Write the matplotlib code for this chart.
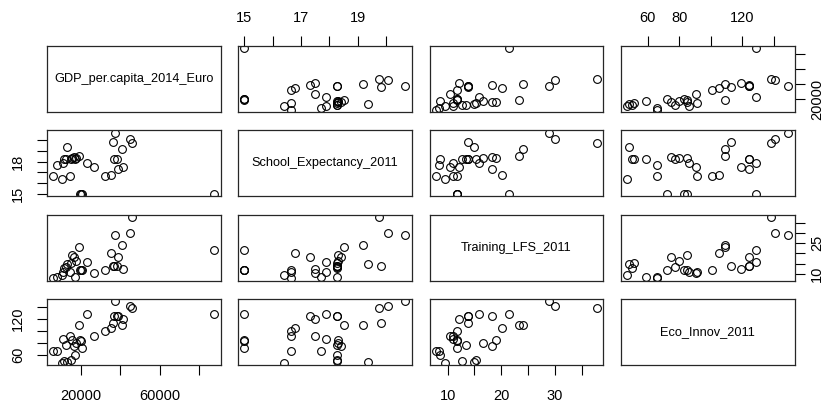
import matplotlib
matplotlib.use('Agg')
import matplotlib.pyplot as plt
import numpy as np

plt.rcParams['font.family'] = ['Liberation Sans', 'DejaVu Sans']

gdp = [5800, 7400, 10050, 10560, 11400, 12070, 12920, 14430, 14940, 15450,
       16290, 16630, 17300, 18650, 19160, 19830, 20500, 22870, 26750, 32140,
       35180, 36190, 36870, 37370, 38050, 38890, 40580, 41250, 44790, 46140,
       87800]
school = [16.65, 17.7, 16.4, 17.89, 18.25, 18.25, 19.35, 16.65, 18.25, 18.3,
          18.4, 18.25, 18.3, 18.5, 15.0, 15.0, 15.0, 17.89, 17.48, 16.65,
          16.77, 19.81, 18.25, 20.67, 18.25, 17.3, 19.2, 17.48, 20.06, 19.75,
          15.0]
training = [7.8, 8.3, 9.5, 11.0, 12.6, 13.5, 15.0, 11.0, 15.3, 19.0,
            18.3, 8.5, 16.5, 23.3, 11.8, 11.8, 11.8, 15.9, 10.5, 11.8,
            20.2, 13.7, 13.7, 28.9, 13.7, 18.3, 24.0, 12.1, 30.0, 37.8,
            21.5]
eco = [66, 66, 47, 86, 50, 77, 48, 91, 51, 85,
       74.6, 59, 80, 109, 85, 83, 72, 128.6, 90.7, 100.5,
       105, 113, 124, 149, 124, 124, 109, 119, 141, 138,
       128.6]

var_names = ['GDP_per.capita_2014_Euro', 'School_Expectancy_2011',
             'Training_LFS_2011', 'Eco_Innov_2011']
var_ticks = [[20000, 40000, 60000, 80000],
             [15, 16, 17, 18, 19, 20],
             [10, 15, 20, 25, 30, 35],
             [60, 80, 100, 120, 140]]
# labels R kept on the horizontal axes (others dropped for overlap)
xtick_labels = [['20000', '', '60000', ''],
                ['15', '', '17', '', '19', ''],
                ['10', '', '20', '', '30', ''],
                ['60', '80', '', '120', '']]
# labels kept on the vertical axes
ytick_labels = [['20000', '', '', ''],
                ['15', '', '', '18', '', ''],
                ['10', '', '', '25', '', ''],
                ['60', '', '', '120', '']]

# =================== LAYOUT ===================

W, H = 826, 403
col_left = [47, 238, 429.5, 621]
row_top = [46, 130.3, 214.7, 299]
pw, ph = 173.5, 66
tick_fs = 10.5
label_fs = 9.2

data = [np.array(v, dtype=float) for v in (gdp, school, training, eco)]


def padded(v):
    r = v.max() - v.min()
    return v.min() - 0.04 * r, v.max() + 0.04 * r


fig = plt.figure(figsize=(W / 100, H / 100), dpi=100)

for i in range(4):
    for j in range(4):
        ax = fig.add_axes([col_left[j] / W, 1 - (row_top[i] + ph) / H, pw / W, ph / H])
        for sp in ax.spines.values():
            sp.set_linewidth(0.9)
            sp.set_color('0.15')
        ax.set_xticks([])
        ax.set_yticks([])
        ax.set_xlim(padded(data[j]))
        ax.set_ylim(padded(data[i]))
        ax.tick_params(length=7, width=0.8, labelsize=tick_fs, direction='out')

        if i == j:
            ax.text(0.5, 0.5, var_names[i], transform=ax.transAxes,
                    ha='center', va='center', fontsize=label_fs)
        else:
            ax.plot(data[j], data[i], 'o', mfc='none', mec='black',
                    ms=5.6, mew=0.8)

        # outer axes, alternating sides like R's pairs()
        if i == 0 and j % 2 == 1:
            ax.xaxis.tick_top()
            ax.set_xticks(var_ticks[j])
            ax.set_xticklabels(xtick_labels[j])
            ax.tick_params(axis='x', pad=8)
        if i == 3 and j % 2 == 0:
            ax.set_xticks(var_ticks[j])
            ax.set_xticklabels(xtick_labels[j])
            ax.tick_params(axis='x', pad=10)
        if j == 0 and i % 2 == 1:
            ax.set_yticks(var_ticks[i])
            ax.set_yticklabels(ytick_labels[i], rotation=90, va='center')
            ax.tick_params(axis='y', pad=9)
        if j == 3 and i % 2 == 0:
            ax.yaxis.tick_right()
            ax.set_yticks(var_ticks[i])
            ax.set_yticklabels(ytick_labels[i], rotation=90, va='center')
            ax.tick_params(axis='y', pad=4)

fig.savefig('out.png', dpi=100)
